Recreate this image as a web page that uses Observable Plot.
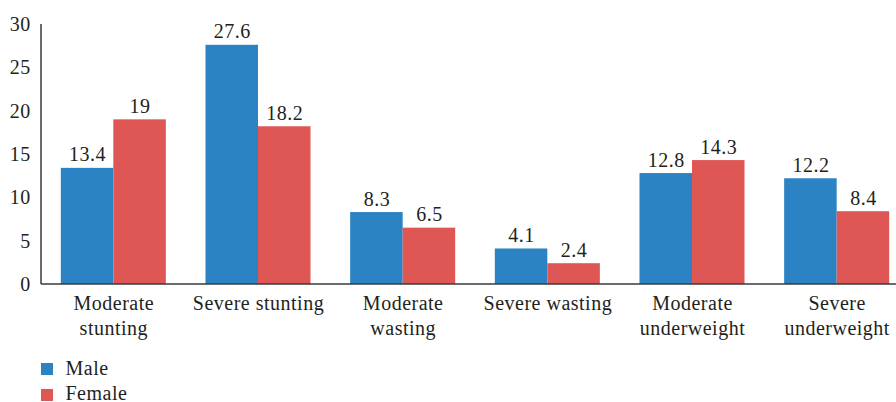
<!DOCTYPE html>
<html><head><meta charset="utf-8">
<script src="https://cdn.jsdelivr.net/npm/d3@7"></script>
<script src="https://cdn.jsdelivr.net/npm/@observablehq/plot@0.6"></script>
<style>
body{margin:0;background:#fff;font-family:"Liberation Serif","Times New Roman",Tinos,serif;color:#231f20;}
#chart{position:relative;width:896px;height:402px;overflow:hidden;}
#chart svg{font-family:"Liberation Serif","Times New Roman",Tinos,serif !important;letter-spacing:0.5px;}
.sw{position:absolute;left:41px;width:12px;height:12px;}
.lt{position:absolute;left:65.5px;font-size:20px;line-height:16px;letter-spacing:0.5px;white-space:nowrap;}
</style></head>
<body><div id="chart"></div>
<script>
const categories = ["Moderate stunting","Severe stunting","Moderate wasting","Severe wasting","Moderate underweight","Severe underweight"];
const categoryLabels = ["Moderate\nstunting","Severe stunting","Moderate\nwasting","Severe wasting","Moderate\nunderweight","Severe\nunderweight"];
const series = ["Male","Female"];
const male = [13.4, 27.6, 8.3, 4.1, 12.8, 12.2];
const female = [19, 18.2, 6.5, 2.4, 14.3, 8.4];
const colors = ["#2b83c3","#de5755"];
const yTicks = [0,5,10,15,20,25,30];

const data = categories.flatMap((c,i)=>[
  {cat:c, sex:"Male", value:male[i]},
  {cat:c, sex:"Female", value:female[i]}
]);
const labelOf = new Map(categories.map((c,i)=>[c,categoryLabels[i]]));

const plot = Plot.plot({
  width: 896, height: 345,
  marginLeft: 41, marginRight: -13, marginTop: 24, marginBottom: 61,
  style: {fontSize: "20px", color: "#231f20", background: "transparent"},
  fx: {domain: categories, paddingInner: 0.274, paddingOuter: 0.137, round: false, label: null, axis: null},
  x: {domain: series, axis: null, padding: 0, round: false},
  y: {domain: [0,30], axis: null},
  color: {domain: series, range: colors},
  marks: [
    Plot.barY(data, {fx:"cat", x:"sex", y:"value", fill:"sex"}),
    Plot.text(data, {fx:"cat", x:"sex", y:"value", text: d=>String(d.value), dy:-7, lineAnchor:"bottom", fill:"#231f20"}),
    Plot.axisY({ticks: yTicks, tickSize: 0, tickPadding: 30.5, label: null, fill:"#231f20"}),
    Plot.axisFx({anchor:"bottom", tickSize: 0, tickPadding: 7, label: null, lineHeight: 1.27, tickFormat: d=>labelOf.get(d), fill:"#231f20"})
  ]
});
// axis lines from the plot's own scales
const fx = plot.scale("fx"), y = plot.scale("y");
const svg = d3.select(plot);
const [x0, x1] = fx.range;
const y0 = y.apply(0), yTop = y.apply(30);
svg.append("line").attr("x1", x0).attr("x2", x1).attr("y1", y0).attr("y2", y0)
  .attr("stroke", "#3a3a3a").attr("stroke-width", 1.5);
svg.append("line").attr("x1", x0).attr("x2", x0).attr("y1", yTop).attr("y2", y0)
  .attr("stroke", "#3a3a3a").attr("stroke-width", 1.5);

const chart = document.getElementById("chart");
chart.appendChild(plot);
series.forEach((s,i)=>{
  const sw = document.createElement("div");
  sw.className = "sw";
  sw.style.top = (363 + i*26) + "px";
  sw.style.background = colors[i];
  chart.appendChild(sw);
  const t = document.createElement("div");
  t.className = "lt";
  t.style.top = (360 + i*25) + "px";
  t.textContent = s;
  chart.appendChild(t);
});
</script></body></html>
